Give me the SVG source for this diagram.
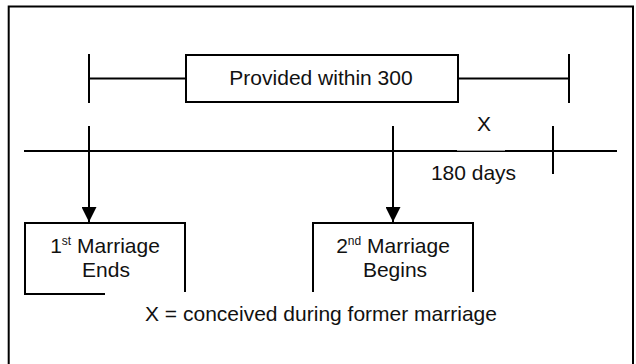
<svg xmlns="http://www.w3.org/2000/svg" width="636" height="364" viewBox="0 0 636 364">
  <defs>
    <style>
      .ln { stroke: #000; stroke-width: 2; fill: none; }
      .box { stroke: #000; stroke-width: 2; fill: #fff; }
      .t { font-family: "Liberation Sans", Arial, sans-serif; font-size: 21px; fill: #111; text-anchor: middle; }
      .sup { font-size: 12px; }
    </style>
    <marker id="arr" viewBox="0 0 15 15" refX="15" refY="7.5" markerWidth="15" markerHeight="15" markerUnits="userSpaceOnUse" orient="auto">
      <path d="M0,0 L15,7.5 L0,15 Z" fill="#000"/>
    </marker>
  </defs>
  <rect width="636" height="364" fill="#fff"/>
  <path class="ln" d="M8.7,364 V6.5 H633 V364"/>

  <g id="connectors">
    <!-- top span -->
    <line class="ln" x1="89" y1="54" x2="89" y2="103"/>
    <line class="ln" x1="569" y1="54" x2="569" y2="103"/>
    <line class="ln" x1="89" y1="78.5" x2="186" y2="78.5"/>
    <line class="ln" x1="458" y1="78.5" x2="569" y2="78.5"/>
    <!-- main timeline -->
    <line class="ln" x1="24" y1="151" x2="617" y2="151"/>
    <rect x="457" y="138" width="48" height="12.6" fill="#fff"/>
    <line class="ln" x1="553" y1="126" x2="553" y2="174"/>
    <!-- arrows -->
    <line class="ln" x1="89" y1="126" x2="89" y2="222" marker-end="url(#arr)"/>
    <line class="ln" x1="393" y1="126" x2="393" y2="222" marker-end="url(#arr)"/>
  </g>

  <g id="provided">
    <rect class="box" x="186" y="55" width="272" height="47"/>
    <text class="t" x="321" y="85">Provided within 300</text>
  </g>

  <g id="x-label">
    <text class="t" x="484" y="131">X</text>
  </g>

  <g id="days-label">
    <text class="t" x="473.5" y="180">180 days</text>
  </g>

  <g id="first-marriage">
    <path class="ln" d="M105,294 H25 V223 H185 V292"/>
    <text class="t" x="105" y="253">1<tspan class="sup" dy="-8">st</tspan><tspan dy="8"> Marriage</tspan></text>
    <text class="t" x="106" y="277">Ends</text>
  </g>

  <g id="second-marriage">
    <path class="ln" d="M313,292 V223 H473 V292"/>
    <text class="t" x="393" y="253">2<tspan class="sup" dy="-8">nd</tspan><tspan dy="8"> Marriage</tspan></text>
    <text class="t" x="395" y="277">Begins</text>
  </g>

  <g id="legend">
    <text class="t" x="321" y="321">X = conceived during former marriage</text>
  </g>
</svg>
